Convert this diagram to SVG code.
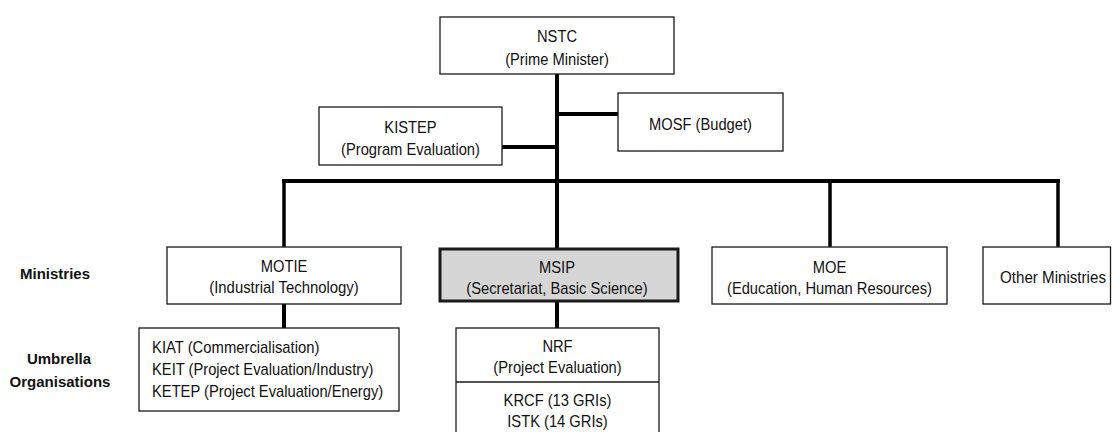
<svg xmlns="http://www.w3.org/2000/svg" width="1112" height="432" viewBox="0 0 1112 432">
<style>
.box{fill:#ffffff;stroke:#1a1a1a;stroke-width:1.3}
.hl{fill:#d6d6d6;stroke:#1a1a1a;stroke-width:3}
.t{font-family:"Liberation Sans",Arial,sans-serif;font-size:17px;fill:#111;text-anchor:middle}
.tl{font-family:"Liberation Sans",Arial,sans-serif;font-size:17px;fill:#111;text-anchor:start}
.lab{font-family:"Liberation Sans",Arial,sans-serif;font-size:15px;font-weight:bold;fill:#111;text-anchor:middle}
.c{stroke:#000;stroke-width:4;fill:none}
.c3{stroke:#000;stroke-width:3.5;fill:none}
</style>
<rect width="1112" height="432" fill="#ffffff"/>
<g id="connectors">
<line class="c" x1="557" y1="74" x2="557" y2="249"/>
<line class="c" x1="557" y1="114" x2="618" y2="114"/>
<line class="c" x1="502" y1="147" x2="557" y2="147"/>
<line class="c" x1="282" y1="181" x2="1060" y2="181"/>
<line class="c3" x1="284" y1="181" x2="284" y2="247"/>
<line class="c3" x1="830" y1="181" x2="830" y2="247"/>
<line class="c3" x1="1058" y1="181" x2="1058" y2="247"/>
<line class="c" x1="284" y1="304" x2="284" y2="328"/>
<line class="c" x1="557" y1="301" x2="557" y2="328"/>
</g>
<g id="nstc">
<rect class="box" x="440" y="17" width="234" height="57"/>
<text class="t" x="557" y="42" textLength="40" lengthAdjust="spacingAndGlyphs">NSTC</text>
<text class="t" x="557" y="65" textLength="103.7" lengthAdjust="spacingAndGlyphs">(Prime Minister)</text>
</g>
<g id="kistep">
<rect class="box" x="319" y="107" width="183" height="58"/>
<text class="t" x="410.5" y="133" textLength="52.3" lengthAdjust="spacingAndGlyphs">KISTEP</text>
<text class="t" x="410.5" y="155" textLength="138.9" lengthAdjust="spacingAndGlyphs">(Program Evaluation)</text>
</g>
<g id="mosf">
<rect class="box" x="618" y="93" width="165" height="58"/>
<text class="t" x="700.5" y="130" textLength="102.9" lengthAdjust="spacingAndGlyphs">MOSF (Budget)</text>
</g>
<g id="label-ministries">
<text class="lab" x="55" y="279">Ministries</text>
</g>
<g id="label-umbrella">
<text class="lab" x="59" y="364">Umbrella</text>
<text class="lab" x="60" y="387">Organisations</text>
</g>
<g id="motie">
<rect class="box" x="167" y="247" width="234" height="57"/>
<text class="t" x="284" y="272" textLength="46.6" lengthAdjust="spacingAndGlyphs">MOTIE</text>
<text class="t" x="284" y="293" textLength="149.5" lengthAdjust="spacingAndGlyphs">(Industrial Technology)</text>
</g>
<g id="msip">
<rect class="hl" x="440" y="249" width="238" height="52"/>
<text class="t" x="557" y="273" textLength="35.9" lengthAdjust="spacingAndGlyphs">MSIP</text>
<text class="t" x="557" y="294" textLength="181.4" lengthAdjust="spacingAndGlyphs">(Secretariat, Basic Science)</text>
</g>
<g id="moe">
<rect class="box" x="712" y="247" width="235" height="57"/>
<text class="t" x="829.5" y="273" textLength="33.5" lengthAdjust="spacingAndGlyphs">MOE</text>
<text class="t" x="829.5" y="294" textLength="205" lengthAdjust="spacingAndGlyphs">(Education, Human Resources)</text>
</g>
<g id="other">
<rect class="box" x="983" y="247" width="127.5" height="57"/>
<text class="t" x="1053" y="283" textLength="105.9" lengthAdjust="spacingAndGlyphs">Other Ministries</text>
</g>
<g id="umbrella-motie">
<rect class="box" x="139" y="328" width="260" height="83"/>
<text class="tl" x="152" y="353" textLength="167.4" lengthAdjust="spacingAndGlyphs">KIAT (Commercialisation)</text>
<text class="tl" x="152" y="375" textLength="221.4" lengthAdjust="spacingAndGlyphs">KEIT (Project Evaluation/Industry)</text>
<text class="tl" x="152" y="397" textLength="231.2" lengthAdjust="spacingAndGlyphs">KETEP (Project Evaluation/Energy)</text>
</g>
<g id="nrf">
<rect class="box" x="456" y="328" width="203" height="120"/>
<line class="box" x1="456" y1="382" x2="659" y2="382"/>
<text class="t" x="557.5" y="352" textLength="30.2" lengthAdjust="spacingAndGlyphs">NRF</text>
<text class="t" x="557.5" y="373" textLength="128.3" lengthAdjust="spacingAndGlyphs">(Project Evaluation)</text>
<text class="t" x="557.5" y="406" textLength="107.8" lengthAdjust="spacingAndGlyphs">KRCF (13 GRIs)</text>
<text class="t" x="557.5" y="427" textLength="100.5" lengthAdjust="spacingAndGlyphs">ISTK (14 GRIs)</text>
</g>
</svg>
